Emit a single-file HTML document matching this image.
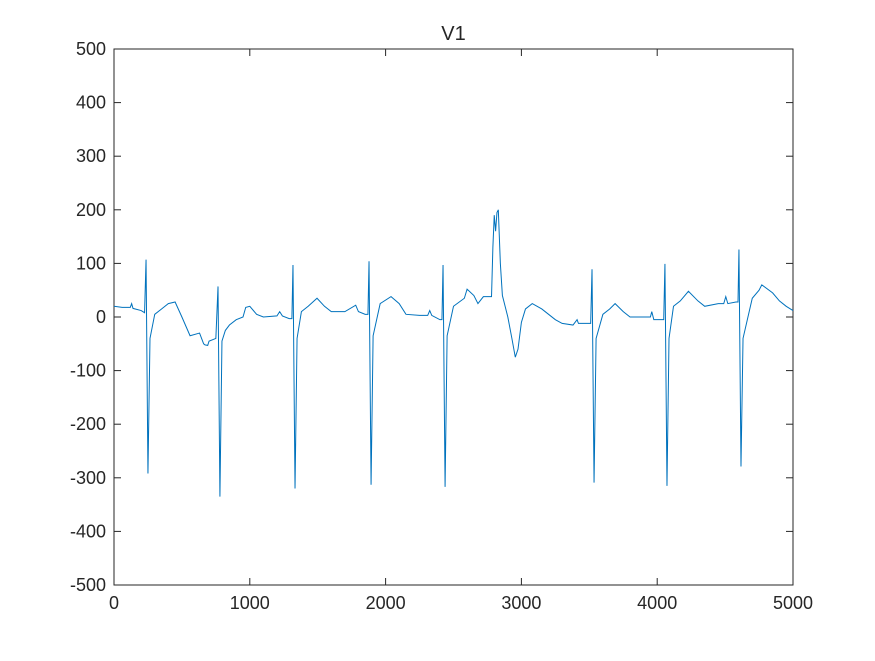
<!DOCTYPE html>
<html><head><meta charset="utf-8"><style>
html,body{margin:0;padding:0;background:#fff;}
svg text{font-family:"Liberation Sans",sans-serif;fill:#262626;}
</style></head><body>
<svg id="chart" width="875" height="656" viewBox="0 0 875 656" xmlns="http://www.w3.org/2000/svg">
<rect x="0" y="0" width="875" height="656" fill="#fff"/>
<text x="453.5" y="40" font-size="20" text-anchor="middle">V1</text>
<g id="axes"></g>
<path id="series" fill="none" stroke="#0072BD" stroke-width="1"/>
</svg>
<script>
const xTicks=[0,1000,2000,3000,4000,5000];
const yTicks=[-500,-400,-300,-200,-100,0,100,200,300,400,500];
const sampleX=[
0,60,120,130,140,200,225,
236,250,265,300,350,400,450,500,560,630,660,670,690,700,750,
766,780,795,820,850,900,950,970,1000,1050,1100,1200,1220,1240,1290,1310,
1318,1333,1348,1380,1430,1495,1550,1600,1700,1780,1800,1850,1870,
1878,1893,1908,1960,2040,2100,2150,2250,2310,2325,2340,2400,2415,
2423,2438,2453,2500,2580,2600,2650,2680,2720,2780,2790,2800,2810,2820,2830,2845,2860,2870,2900,2930,2955,2975,3000,3030,3080,3150,3200,3250,3300,3380,3410,3420,3480,3510,
3520,3535,3550,3600,3650,3690,3750,3800,3900,3950,3960,3975,4020,4048,
4057,4072,4087,4120,4170,4230,4300,4350,4450,4490,4505,4520,4580,4595,
4602,4617,4632,4700,4750,4770,4850,4900,4950,5000];
const sampleY=[
20,18,18,25,16,12,8,
107,-292,-40,5,15,25,28,0,-35,-30,-50,-52,-53,-45,-40,
57,-335,-45,-25,-15,-5,0,18,20,5,0,2,10,2,-3,-3,
97,-320,-40,10,20,35,20,10,10,22,10,5,5,
104,-313,-35,25,38,25,5,3,3,12,3,-5,-5,
97,-317,-35,20,35,52,40,25,38,38,130,190,160,195,200,100,40,30,0,-40,-75,-60,-10,15,25,15,5,-5,-12,-15,-5,-12,-12,-12,
89,-309,-40,5,15,25,10,0,0,0,10,-5,-5,-5,
99,-315,-40,20,30,48,30,20,25,25,38,25,28,28,
126,-279,-40,35,50,60,45,30,20,12];
const L=114,R=793,T=49,B=585;
const sx=v=>L+(v-0)/(5000-0)*(R-L);
const sy=v=>B-(v+500)/1000*(B-T);
const NS="http://www.w3.org/2000/svg";
const ax=document.getElementById('axes');
function mk(tag,attrs,txt){const e=document.createElementNS(NS,tag);for(const k in attrs)e.setAttribute(k,attrs[k]);if(txt!==undefined)e.textContent=txt;ax.appendChild(e);return e;}
const box=mk('rect',{x:L,y:T,width:R-L,height:B-T,fill:'none',stroke:'#262626','stroke-width':1});


xTicks.forEach(t=>{const x=sx(t);
 mk('line',{x1:x,x2:x,y1:B,y2:B-7,stroke:'#262626'});
 mk('line',{x1:x,x2:x,y1:T,y2:T+7,stroke:'#262626'});
 const tx=mk('text',{x:x,y:B+24,'font-size':18,'text-anchor':'middle'},String(t));
 
 
});
yTicks.forEach(t=>{const y=sy(t);
 mk('line',{x1:L,x2:L+7,y1:y,y2:y,stroke:'#262626'});
 mk('line',{x1:R,x2:R-7,y1:y,y2:y,stroke:'#262626'});
 const tx=mk('text',{x:L-8,y:y+6,'font-size':18,'text-anchor':'end'},String(t));
 
 
});
let d='';
const n=Math.min(sampleX.length,sampleY.length);
for(let i=0;i<n;i++){d+=(i?'L':'M')+sx(sampleX[i]).toFixed(2)+','+sy(sampleY[i]).toFixed(2);}
document.getElementById('series').setAttribute('d',d);
</script>
</body></html>
